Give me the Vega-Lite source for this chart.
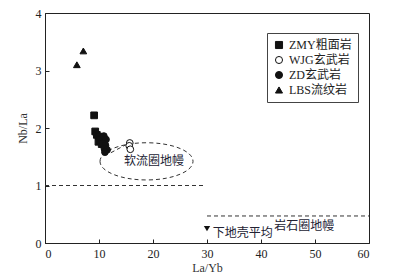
{
  "$schema": "https://vega.github.io/schema/vega-lite/v6.json",
  "autosize": "none",
  "width": 324,
  "height": 230,
  "padding": {"left": 45, "top": 13, "right": 37, "bottom": 35},
  "background": "white",
  "config": {
    "font": "Liberation Serif, Noto Sans CJK SC",
    "view": {"stroke": "#222", "strokeWidth": 1},
    "axis": {"grid": false, "domainColor": "#222", "tickColor": "#222", "labelColor": "#222", "titleColor": "#333", "labelFont": "Liberation Serif", "titleFont": "Liberation Serif", "labelFontSize": 12, "titleFontSize": 12, "titleFontWeight": "normal"},
    "legend": {"symbolStrokeWidth": 1}
  },
  "encoding": {
    "x": {"field": "x", "type": "quantitative", "scale": {"domain": [0, 60], "nice": false}, "axis": {"title": "La/Yb", "values": [0, 10, 20, 30, 40, 50, 60], "tickSize": -4, "labelPadding": 9, "titlePadding": 3}},
    "y": {"field": "y", "type": "quantitative", "scale": {"domain": [0, 4], "nice": false}, "axis": {"title": "Nb/La", "values": [0, 1, 2, 3, 4], "tickSize": -4, "labelPadding": 8, "titlePadding": 6}}
  },
  "layer": [
    {
      "data": {"values": [{"x": 0, "x2": 29.5, "y": 1}, {"x": 30, "x2": 60, "y": 0.47}]},
      "mark": {"type": "rule", "strokeDash": [4, 3], "color": "#333", "strokeWidth": 1},
      "encoding": {"x2": {"field": "x2"}}
    },
    {
      "data": {"values": [{"x": 12.2, "x2": 15.0, "y": 1.57, "y2": 1.71}]},
      "mark": {"type": "rule", "strokeDash": [4, 3], "color": "#333", "strokeWidth": 1},
      "encoding": {"x2": {"field": "x2"}, "y2": {"field": "y2"}}
    },
    {
      "data": {"values": [{"x": 18.8, "y": 1.42}]},
      "mark": {"type": "point", "shape": "M-1,0 A1,0.4 0 1,1 1,0 A1,0.4 0 1,1 -1,0 Z", "size": 8649, "filled": false, "stroke": "#333", "strokeWidth": 1, "strokeDash": [4, 3], "opacity": 1}
    },
    {
      "data": {"values": [
        {"group": "ZMY粗面岩", "x": 9.1, "y": 2.22},
        {"group": "ZMY粗面岩", "x": 9.3, "y": 1.94},
        {"group": "ZMY粗面岩", "x": 9.6, "y": 1.88},
        {"group": "ZMY粗面岩", "x": 10.0, "y": 1.85},
        {"group": "ZMY粗面岩", "x": 10.3, "y": 1.8},
        {"group": "ZMY粗面岩", "x": 9.9, "y": 1.76},
        {"group": "ZMY粗面岩", "x": 10.5, "y": 1.72},
        {"group": "WJG玄武岩", "x": 15.7, "y": 1.74},
        {"group": "WJG玄武岩", "x": 15.6, "y": 1.69},
        {"group": "WJG玄武岩", "x": 15.8, "y": 1.63},
        {"group": "ZD玄武岩", "x": 10.9, "y": 1.86},
        {"group": "ZD玄武岩", "x": 11.3, "y": 1.8},
        {"group": "ZD玄武岩", "x": 10.7, "y": 1.73},
        {"group": "ZD玄武岩", "x": 11.2, "y": 1.7},
        {"group": "ZD玄武岩", "x": 11.0, "y": 1.64},
        {"group": "ZD玄武岩", "x": 11.5, "y": 1.62},
        {"group": "ZD玄武岩", "x": 11.1, "y": 1.58},
        {"group": "LBS流纹岩", "x": 7.1, "y": 3.34},
        {"group": "LBS流纹岩", "x": 5.9, "y": 3.1}
      ]},
      "mark": {"type": "point", "strokeWidth": 1, "opacity": 1, "size": 45},
      "encoding": {
        "shape": {"field": "group", "type": "nominal", "scale": {"domain": ["ZMY粗面岩", "WJG玄武岩", "ZD玄武岩", "LBS流纹岩"], "range": ["square", "circle", "circle", "triangle-up"]}, "legend": {"title": null, "orient": "none", "legendX": 222, "legendY": 20, "strokeColor": "#444", "padding": 6, "labelFont": "Liberation Serif, Noto Sans CJK SC", "labelFontSize": 12, "labelColor": "#222", "symbolSize": 50, "rowPadding": 3}},
        "fill": {"field": "group", "type": "nominal", "scale": {"domain": ["ZMY粗面岩", "WJG玄武岩", "ZD玄武岩", "LBS流纹岩"], "range": ["#111", "white", "#111", "#111"]}, "legend": {"title": null, "orient": "none", "legendX": 222, "legendY": 20}},
        "stroke": {"field": "group", "type": "nominal", "scale": {"domain": ["ZMY粗面岩", "WJG玄武岩", "ZD玄武岩", "LBS流纹岩"], "range": ["#111", "#111", "#111", "#111"]}, "legend": {"title": null, "orient": "none", "legendX": 222, "legendY": 20}}
      }
    },
    {
      "data": {"values": [{"x": 30, "y": 0.25}]},
      "mark": {"type": "point", "shape": "triangle-down", "filled": true, "color": "#111", "size": 40, "opacity": 1}
    },
    {
      "data": {"values": [
        {"x": 20.2, "y": 1.43, "label": "软流圈地幔"},
        {"x": 48.0, "y": 0.3, "label": "岩石圈地幔"},
        {"x": 36.6, "y": 0.17, "label": "下地壳平均"}
      ]},
      "mark": {"type": "text", "font": "Noto Sans CJK SC", "fontSize": 12, "color": "#223", "baseline": "middle"},
      "encoding": {"text": {"field": "label"}}
    }
  ]
}
